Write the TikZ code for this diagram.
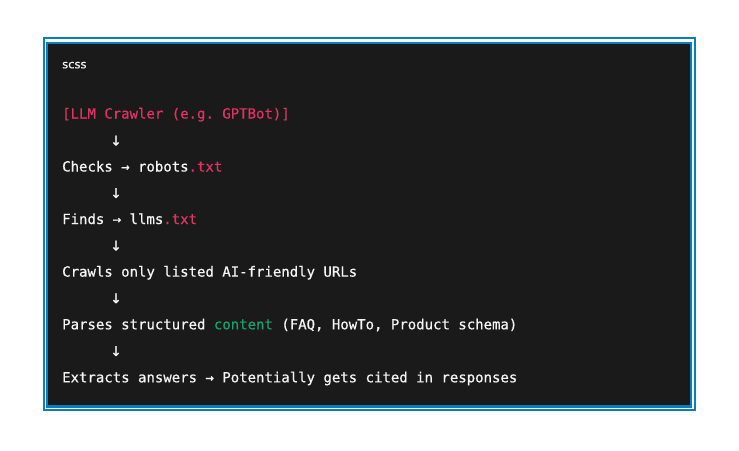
\documentclass[tikz,border=0pt]{standalone}
\usepackage{fontspec}
\setmonofont[FakeBold=0.6]{DejaVu Sans Mono}
\newfontfamily\arrowfont[FakeBold=1]{DejaVu Sans Mono}
\newfontfamily\langfont[FakeBold=0.6]{DejaVu Sans}
\definecolor{borderblue}{HTML}{0A7DBE}
\definecolor{codebg}{HTML}{1A1A1A}
\definecolor{codefg}{HTML}{F4F4F4}
\definecolor{codepink}{HTML}{DD3366}
\definecolor{codegreen}{HTML}{1A9E6E}
\tikzset{
  codeline/.style={anchor=base west, inner sep=0pt, text=codefg,
    font=\ttfamily\fontsize{14}{16}\selectfont},
  downarrow/.style={anchor=base, inner sep=0pt, text=codefg,
    font=\arrowfont\fontsize{18}{20}\selectfont},
  langlabel/.style={anchor=base west, inner sep=0pt, text=codefg,
    font=\langfont\fontsize{11.5}{13}\selectfont},
}
\begin{document}
\begin{tikzpicture}[x=1pt,y=-1pt]
\useasboundingbox (0,0) rectangle (739,450);
\fill[white] (0,0) rectangle (739,450);
\draw[borderblue, line width=2pt] (43.5,37.5) rectangle (695,410);
\fill[codebg] (47,43) rectangle (691,406.5);
\draw[borderblue, line width=2.4pt] (47,43) rectangle (691,406.5);
\node[langlabel] (lang) at (62,68.3) {scss};
\node[codeline, text=codepink] (n1) at (62,118.5) {[LLM Crawler (e.g. GPTBot)]};
\node[downarrow] (a1) at (116,145.5) {↓};
\node[codeline] (n2) at (62,171.5) {Checks → robots\textcolor{codepink}{.txt}};
\node[downarrow] (a2) at (116,198) {↓};
\node[codeline] (n3) at (62,224) {Finds → llms\textcolor{codepink}{.txt}};
\node[downarrow] (a3) at (116,250.5) {↓};
\node[codeline] (n4) at (62,276.6) {Crawls only listed AI-friendly URLs};
\node[downarrow] (a4) at (116,303.2) {↓};
\node[codeline] (n5) at (62,329.3) {Parses structured \textcolor{codegreen}{content} (FAQ, HowTo, Product schema)};
\node[downarrow] (a5) at (116,356) {↓};
\node[codeline] (n6) at (62,382.3) {Extracts answers → Potentially gets cited in responses};
\end{tikzpicture}
\end{document}
